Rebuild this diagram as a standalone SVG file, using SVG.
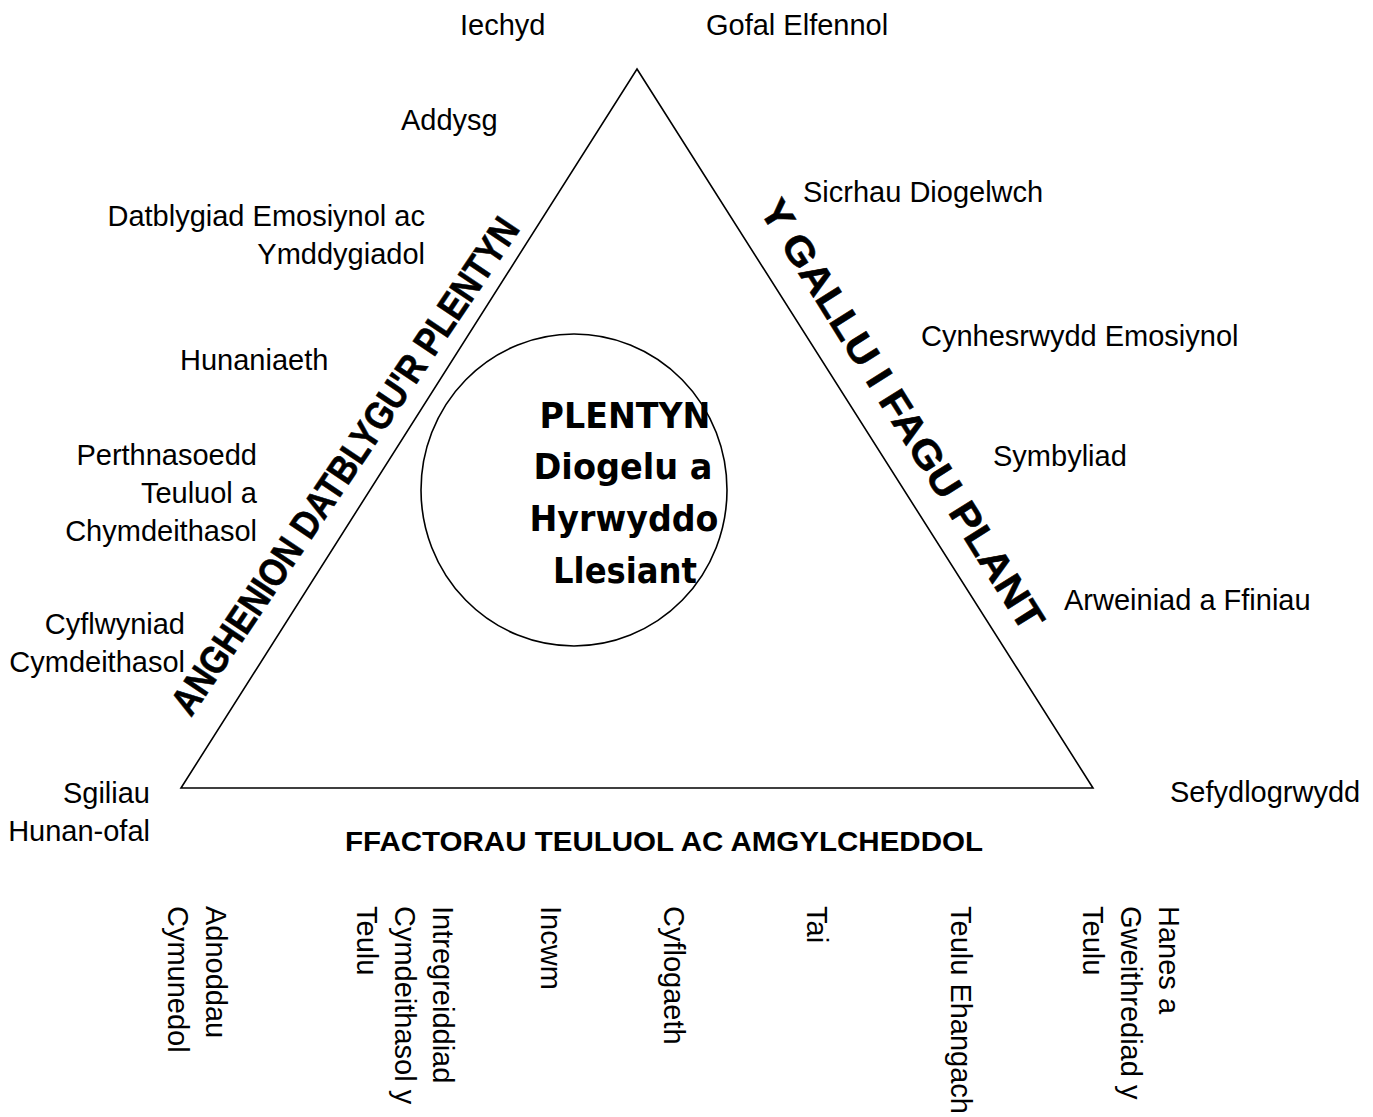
<svg xmlns="http://www.w3.org/2000/svg" width="1373" height="1117" viewBox="0 0 1373 1117">
<style>
.lbl{font-family:"Liberation Sans",Arial,sans-serif;font-size:29px;fill:#000}
.end{text-anchor:end}
.side{font-family:"Liberation Sans",Arial,sans-serif;font-size:39px;font-weight:bold;fill:#000;stroke:#000;stroke-width:0.6}
.title{font-family:"Liberation Sans",Arial,sans-serif;font-size:28px;font-weight:bold;fill:#000}
.center{font-family:"DejaVu Sans",Verdana,sans-serif;font-size:36px;font-weight:bold;fill:#000;text-anchor:middle}
.shape{fill:none;stroke:#000;stroke-width:1.6}
</style>
<rect width="1373" height="1117" fill="#fff"/>
<g id="connectors"></g>
<g id="triangle">
<polygon class="shape" points="637,69 1093,788 181,788"/>
</g>
<g id="child">
<ellipse class="shape" cx="574" cy="490" rx="153" ry="156"/>
<text class="center" x="625" y="428" textLength="171" lengthAdjust="spacingAndGlyphs">PLENTYN</text>
<text class="center" x="623" y="479" textLength="179" lengthAdjust="spacingAndGlyphs">Diogelu a</text>
<text class="center" x="624" y="531" textLength="189" lengthAdjust="spacingAndGlyphs">Hyrwyddo</text>
<text class="center" x="625" y="583" textLength="144" lengthAdjust="spacingAndGlyphs">Llesiant</text>
</g>
<g id="side-left">
<text class="side" transform="translate(191,718) rotate(-56)" x="0" y="0" textLength="590" lengthAdjust="spacingAndGlyphs">ANGHENION DATBLYGU'R PLENTYN</text>
</g>
<g id="side-right">
<text class="side" transform="translate(758.6,209.8) rotate(58)" x="0" y="0" font-size="38" textLength="500" lengthAdjust="spacingAndGlyphs">Y GALLU I FAGU PLANT</text>
</g>
<g id="side-bottom">
<text class="title" x="345" y="851" textLength="638" lengthAdjust="spacingAndGlyphs">FFACTORAU TEULUOL AC AMGYLCHEDDOL</text>
</g>
<g id="left-labels">
<text class="lbl" x="460" y="35">Iechyd</text>
<text class="lbl" x="401" y="130">Addysg</text>
<text class="lbl end" x="425" y="226">Datblygiad Emosiynol ac</text>
<text class="lbl end" x="425" y="264">Ymddygiadol</text>
<text class="lbl" x="180" y="370">Hunaniaeth</text>
<text class="lbl end" x="257" y="465">Perthnasoedd</text>
<text class="lbl end" x="257" y="503">Teuluol a</text>
<text class="lbl end" x="257" y="541">Chymdeithasol</text>
<text class="lbl end" x="185" y="634">Cyflwyniad</text>
<text class="lbl end" x="185" y="672">Cymdeithasol</text>
<text class="lbl end" x="150" y="803">Sgiliau</text>
<text class="lbl end" x="150" y="841">Hunan-ofal</text>
</g>
<g id="right-labels">
<text class="lbl" x="706" y="35">Gofal Elfennol</text>
<text class="lbl" x="803" y="202">Sicrhau Diogelwch</text>
<text class="lbl" x="921" y="346">Cynhesrwydd Emosiynol</text>
<text class="lbl" x="993" y="466">Symbyliad</text>
<text class="lbl" x="1064" y="610">Arweiniad a Ffiniau</text>
<text class="lbl" x="1170" y="802">Sefydlogrwydd</text>
</g>
<g id="bottom-labels">
<text class="lbl" transform="translate(206,906) rotate(90)"><tspan x="0" y="0">Adnoddau</tspan><tspan x="0" y="38">Cymunedol</tspan></text>
<text class="lbl" transform="translate(433,906) rotate(90)"><tspan x="0" y="0">Intregreiddiad</tspan><tspan x="0" y="38">Cymdeithasol y</tspan><tspan x="0" y="76">Teulu</tspan></text>
<text class="lbl" transform="translate(541,906) rotate(90)">Incwm</text>
<text class="lbl" transform="translate(664,906) rotate(90)">Cyflogaeth</text>
<text class="lbl" transform="translate(807,906) rotate(90)">Tai</text>
<text class="lbl" transform="translate(951,906) rotate(90)">Teulu Ehangach</text>
<text class="lbl" transform="translate(1159,906) rotate(90)"><tspan x="0" y="0">Hanes a</tspan><tspan x="0" y="38">Gweithrediad y</tspan><tspan x="0" y="76">Teulu</tspan></text>
</g>
</svg>
